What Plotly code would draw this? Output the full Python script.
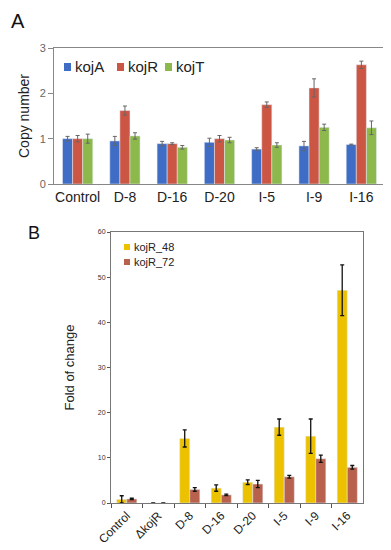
import plotly.graph_objects as go

# Panel A
cats_a = ["Control", "D-8", "D-16", "D-20", "I-5", "I-9", "I-16"]
kojA = [1.0, 0.95, 0.89, 0.92, 0.77, 0.84, 0.87]
kojA_err = [0.05, 0.10, 0.05, 0.09, 0.03, 0.10, 0.01]
kojR = [1.0, 1.62, 0.89, 1.0, 1.75, 2.12, 2.63]
kojR_err = [0.07, 0.10, 0.02, 0.07, 0.06, 0.20, 0.08]
kojT = [1.0, 1.06, 0.81, 0.97, 0.86, 1.25, 1.24]
kojT_err = [0.10, 0.07, 0.04, 0.06, 0.05, 0.07, 0.15]

# Panel B
cats_b = ["Control", "ΔkojR", "D-8", "D-16", "D-20", "I-5", "I-9", "I-16"]
kojR_48 = [0.8, 0, 14.3, 3.3, 4.6, 16.8, 14.8, 47.1]
kojR_48_err = [0.8, None, 1.9, 0.7, 0.5, 1.8, 3.8, 5.6]
kojR_72 = [0.9, 0, 3.0, 1.8, 4.2, 5.8, 9.8, 7.9]
kojR_72_err = [0.15, None, 0.4, 0.15, 0.8, 0.3, 0.8, 0.4]

# page has an 8px body margin: map page pixel coords to paper coords
OFF = 8
W, H = 391 - OFF, 550 - OFF
def px(x):
    return (x - OFF) / W
def py(y):
    return 1 - (y - OFF) / H

fig = go.Figure()

def eb(arr, color, th=1, w=2):
    return dict(type="data", array=arr, visible=True, color=color, thickness=th, width=w)

series_a = [("kojA", kojA, kojA_err, "#3f6cc4"),
            ("kojR", kojR, kojR_err, "#cc5644"),
            ("kojT", kojT, kojT_err, "#8cb84c")]
for name, vals, err, col in series_a:
    fig.add_trace(go.Bar(x=cats_a, y=vals, name=name, marker_color=col,
                         error_y=eb(err, "#666666", 1, 2),
                         xaxis="x", yaxis="y", showlegend=False))

series_b = [("kojR_48", kojR_48, kojR_48_err, "#ecc200"),
            ("kojR_72", kojR_72, kojR_72_err, "#b8624e")]
for name, vals, err, col in series_b:
    fig.add_trace(go.Bar(x=cats_b, y=vals, name=name, marker_color=col,
                         error_y=eb(err, "#111111", 1.3, 2),
                         xaxis="x2", yaxis="y2", showlegend=False))

font = "Liberation Sans, Arial, sans-serif"
fig.update_layout(
    width=W, height=H,
    margin=dict(l=0, r=0, t=0, b=0, autoexpand=False),
    paper_bgcolor="white", plot_bgcolor="white",
    font=dict(family=font, color="#222"),
    barmode="group", bargap=0.36, bargroupgap=0,
    xaxis=dict(domain=[px(54), px(385)], anchor="y", showline=True, mirror=True,
               linecolor="#888", linewidth=1, ticks="", automargin=False,
               tickfont=dict(size=14, color="#222")),
    yaxis=dict(domain=[py(184), py(48)], anchor="x", range=[0, 3], dtick=1,
               showline=True, mirror=True, linecolor="#888", showgrid=False,
               ticks="outside", ticklen=5, tickcolor="#888", automargin=False,
               tickfont=dict(size=11, color="#666"),
               title=dict(text="Copy number", font=dict(size=14, color="#222"), standoff=6)),
    xaxis2=dict(domain=[px(111), px(363)], anchor="y2", showline=True, mirror=True,
                linecolor="#777", linewidth=1, ticks="outside", tickson="boundaries",
                ticklen=4, tickcolor="#555", tickangle=-45, automargin=False,
                tickfont=dict(size=12, color="#222")),
    yaxis2=dict(domain=[py(503), py(232)], anchor="x2", range=[0, 60], dtick=10,
                showline=True, mirror=True, linecolor="#777", showgrid=False,
                ticks="outside", ticklen=3, tickcolor="#555", automargin=False,
                tickfont=dict(size=7, color="#333"),
                title=dict(text="Fold of change", font=dict(size=13, color="#222"), standoff=20)),
    showlegend=False,
)

# manual legends (symbol squares + real text)
leg_a = [(64, 67), (117, 67), (165, 67)]
for (x0, yc), (name, _, _, col) in zip(leg_a, series_a):
    fig.add_shape(type="rect", xref="paper", yref="paper",
                  x0=px(x0), x1=px(x0 + 7), y0=py(yc + 4), y1=py(yc - 4),
                  fillcolor=col, line=dict(width=0))
    fig.add_annotation(text=name, x=px(x0 + 9), y=py(yc), xref="paper", yref="paper",
                       xanchor="left", yanchor="middle", showarrow=False,
                       font=dict(size=15, color="#222"))
leg_b = [(124, 247), (124, 262)]
for (x0, yc), (name, _, _, col) in zip(leg_b, series_b):
    fig.add_shape(type="rect", xref="paper", yref="paper",
                  x0=px(x0), x1=px(x0 + 6), y0=py(yc + 3), y1=py(yc - 3),
                  fillcolor=col, line=dict(width=0))
    fig.add_annotation(text=name, x=px(x0 + 8), y=py(yc), xref="paper", yref="paper",
                       xanchor="left", yanchor="middle", showarrow=False,
                       font=dict(size=11, color="#222"))

fig.add_annotation(text="A", x=0.004, y=0.998, xref="paper", yref="paper",
                   xanchor="left", yanchor="top", showarrow=False, borderpad=0,
                   font=dict(size=20, color="#111"))
fig.add_annotation(text="B", x=px(34), y=py(233.5), xref="paper", yref="paper",
                   xanchor="center", yanchor="middle", showarrow=False,
                   font=dict(size=18, color="#111"))

fig.write_html("out.html")
